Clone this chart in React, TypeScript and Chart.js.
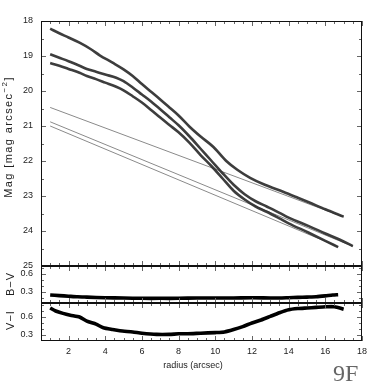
import React, { useEffect, useRef } from "react";
import { Chart, registerables } from "chart.js";

Chart.register(...registerables);

// ---- Surface brightness profiles (thick curves) ----
const radiusProfile1 = [1.0, 1.5, 2.0, 2.6, 3.2, 3.7, 4.4, 5.0, 5.5, 6.0, 6.5, 7.0, 7.5, 8.0, 8.6, 9.2, 9.9, 10.6, 11.2, 11.9, 12.7, 13.7, 14.5, 15.1, 16.0, 17.0];
const magProfile1 = [18.22, 18.35, 18.47, 18.62, 18.8, 18.98, 19.19, 19.38, 19.57, 19.8, 20.02, 20.24, 20.47, 20.7, 21.02, 21.3, 21.6, 22.0, 22.25, 22.48, 22.68, 22.88, 23.05, 23.18, 23.38, 23.59];

const radiusProfile2 = [1.0, 1.5, 2.0, 2.6, 3.0, 3.5, 4.0, 4.6, 5.0, 5.5, 6.0, 6.5, 7.0, 7.5, 8.0, 8.6, 9.2, 9.8, 10.4, 11.0, 11.6, 12.2, 12.8, 13.5, 14.0, 15.1, 16.0, 16.8, 17.5];
const magProfile2 = [18.95, 19.05, 19.15, 19.28, 19.37, 19.45, 19.53, 19.62, 19.72, 19.9, 20.1, 20.3, 20.52, 20.75, 20.98, 21.3, 21.65, 22.0, 22.35, 22.68, 22.95, 23.15, 23.3, 23.48, 23.62, 23.86, 24.07, 24.25, 24.43];

const radiusProfile3 = [1.0, 1.5, 2.0, 2.6, 3.0, 3.5, 4.0, 4.6, 5.0, 5.5, 6.0, 6.5, 7.0, 7.5, 8.0, 8.6, 9.2, 9.8, 10.4, 11.0, 11.6, 12.2, 12.8, 13.5, 14.0, 15.1, 16.0, 16.7];
const magProfile3 = [19.2, 19.28, 19.37, 19.48, 19.57, 19.66, 19.76, 19.88, 19.98, 20.15, 20.33, 20.54, 20.76, 20.97, 21.18, 21.48, 21.83, 22.15, 22.5, 22.85, 23.1, 23.3, 23.45, 23.64, 23.78, 24.05, 24.28, 24.46];

// ---- Disk fits (thin straight lines) ----
const radiusDisk1 = [1.0, 17.0];
const magDisk1 = [20.47, 23.6];
const radiusDisk2 = [1.0, 17.5];
const magDisk2 = [20.88, 24.44];
const radiusDisk3 = [1.0, 16.7];
const magDisk3 = [21.0, 24.45];

// ---- Colour profiles ----
const radiusBV = [1.0, 1.5, 2.0, 2.5, 3.0, 4.0, 5.0, 6.0, 7.0, 8.0, 9.0, 10.0, 11.0, 12.0, 13.0, 13.5, 14.0, 14.5, 15.0, 15.5, 16.0, 16.4, 16.7];
const colorBV = [0.25, 0.24, 0.23, 0.22, 0.215, 0.205, 0.2, 0.195, 0.195, 0.195, 0.2, 0.2, 0.2, 0.205, 0.2, 0.2, 0.205, 0.21, 0.215, 0.22, 0.235, 0.25, 0.255];

const radiusVI = [1.0, 1.3, 1.7, 2.1, 2.6, 3.0, 3.5, 3.9, 4.4, 4.8, 5.5, 6.0, 6.8, 7.5, 8.0, 8.5, 9.2, 10.0, 10.5, 11.0, 11.5, 12.0, 12.5, 13.0, 13.5, 14.0, 14.5, 15.0, 15.5, 16.0, 16.5, 17.0];
const colorVI = [0.75, 0.7, 0.66, 0.63, 0.6, 0.53, 0.48, 0.42, 0.39, 0.37, 0.35, 0.33, 0.31, 0.31, 0.32, 0.32, 0.33, 0.34, 0.35, 0.39, 0.44, 0.5, 0.55, 0.61, 0.67, 0.72, 0.74, 0.75, 0.76, 0.77, 0.77, 0.73];

// ---- Axes ----
const xMajorTicks = [2, 4, 6, 8, 10, 12, 14, 16, 18];
const xMinorTicks = [1, 1.5, 2.5, 3, 3.5, 4.5, 5, 5.5, 6.5, 7, 7.5, 8.5, 9, 9.5, 10.5, 11, 11.5, 12.5, 13, 13.5, 14.5, 15, 15.5, 16.5, 17, 17.5];
const magMajorTicks = [18, 19, 20, 21, 22, 23, 24, 25];
const magMinorTicks = [18.5, 19.5, 20.5, 21.5, 22.5, 23.5, 24.5];
const colorMajorTicks = [0.3, 0.6];
const bvMinorTicks = [0.2, 0.4, 0.5, 0.7];
const viMinorTicks = [0.4, 0.5, 0.7, 0.8];

const pts = (xs: number[], ys: number[]) => xs.map((x, i) => ({ x, y: ys[i] }));

const FONT = '"Liberation Sans", Arial, sans-serif';

type PanelCfg = {
  yMajor: number[];
  yMinor: number[];
  yLabels: number[];
  fmt: (v: number) => string;
  xLabels?: boolean;
  extra?: (ctx: CanvasRenderingContext2D) => void;
};

function makeFrame(cfg: PanelCfg) {
  return {
    id: "frame",
    afterDatasetsDraw(chart: any) {
      const { ctx, chartArea: a } = chart;
      const xs = chart.scales.x;
      const ys = chart.scales.y;
      const L = Math.round(a.left), R = Math.round(a.right), T = Math.round(a.top), B = Math.round(a.bottom);
      ctx.save();
      ctx.lineWidth = 1;
      ctx.strokeStyle = "#666";
      ctx.beginPath();
      const xt = (v: number, len: number) => {
        const p = Math.round(xs.getPixelForValue(v)) + 0.5;
        ctx.moveTo(p, T);
        ctx.lineTo(p, T + len);
        ctx.moveTo(p, B);
        ctx.lineTo(p, B - len);
      };
      xMajorTicks.forEach((v) => xt(v, 5));
      xMinorTicks.forEach((v) => xt(v, 3));
      const yt = (v: number, len: number) => {
        const p = Math.round(ys.getPixelForValue(v)) + 0.5;
        ctx.moveTo(L, p);
        ctx.lineTo(L + len, p);
        ctx.moveTo(R, p);
        ctx.lineTo(R - len, p);
      };
      cfg.yMajor.forEach((v) => yt(v, 5));
      cfg.yMinor.forEach((v) => yt(v, 3));
      ctx.stroke();

      ctx.strokeStyle = "#111";
      ctx.strokeRect(L + 0.5, T + 0.5, R - L - 1, B - T - 1);

      ctx.fillStyle = "#222";
      ctx.font = `9px ${FONT}`;
      ctx.textAlign = "right";
      ctx.textBaseline = "middle";
      cfg.yLabels.forEach((v) => {
        ctx.fillText(cfg.fmt(v), L - 8, ys.getPixelForValue(v));
      });
      if (cfg.xLabels) {
        ctx.textAlign = "center";
        xMajorTicks.forEach((v) => {
          ctx.fillText(String(v), xs.getPixelForValue(v), B + 11);
        });
      }
      if (cfg.extra) cfg.extra(ctx);
      ctx.restore();
    },
  };
}

function drawRotated(ctx: CanvasRenderingContext2D, x: number, y: number, draw: () => void) {
  ctx.save();
  ctx.translate(x, y);
  ctx.rotate(-Math.PI / 2);
  draw();
  ctx.restore();
}

const mainExtra = (ctx: CanvasRenderingContext2D) => {
  drawRotated(ctx, 9, 137, () => {
    (ctx as any).letterSpacing = "1.4px";
    ctx.fillStyle = "#222";
    ctx.textBaseline = "middle";
    ctx.textAlign = "left";
    const big = `11px ${FONT}`;
    const small = `8px ${FONT}`;
    const p1 = "Mag [mag arcsec";
    const p2 = "\u22122";
    const p3 = "]";
    ctx.font = big;
    const w1 = ctx.measureText(p1).width;
    const w3 = ctx.measureText(p3).width;
    ctx.font = small;
    const w2 = ctx.measureText(p2).width;
    let sx = -(w1 + w2 + w3) / 2;
    ctx.font = big;
    ctx.fillText(p1, sx, 0);
    sx += w1;
    ctx.font = small;
    ctx.fillText(p2, sx, -4);
    sx += w2;
    ctx.font = big;
    ctx.fillText(p3, sx, 0);
  });
};

const bvExtra = (ctx: CanvasRenderingContext2D) => {
  drawRotated(ctx, 11, 284, () => {
    (ctx as any).letterSpacing = "1px";
    ctx.fillStyle = "#222";
    ctx.font = `11px ${FONT}`;
    ctx.textAlign = "center";
    ctx.textBaseline = "middle";
    ctx.fillText("B\u2212V", 0, 0);
  });
};

const viExtra = (ctx: CanvasRenderingContext2D) => {
  drawRotated(ctx, 11, 320, () => {
    (ctx as any).letterSpacing = "1px";
    ctx.fillStyle = "#222";
    ctx.font = `11px ${FONT}`;
    ctx.textAlign = "center";
    ctx.textBaseline = "middle";
    ctx.fillText("V\u2212I", 0, 0);
  });
  ctx.fillStyle = "#222";
  ctx.font = `9px ${FONT}`;
  ctx.textAlign = "center";
  ctx.textBaseline = "middle";
  ctx.fillText("radius (arcsec)", 193, 366);
  ctx.fillStyle = "#666";
  ctx.font = `24px "Liberation Serif", "DejaVu Serif", serif`;
  ctx.textAlign = "left";
  ctx.textBaseline = "alphabetic";
  ctx.fillText("9F", 333, 381);
};

const thick = (data: { x: number; y: number }[]) => ({
  data,
  borderColor: "rgba(45,45,45,0.92)",
  borderWidth: 2.6,
  pointRadius: 0,
  cubicInterpolationMode: "monotone" as const,
  fill: false,
});
const thin = (data: { x: number; y: number }[]) => ({
  data,
  borderColor: "#8a8a8a",
  borderWidth: 1,
  pointRadius: 0,
  fill: false,
});
const colorLine = (data: { x: number; y: number }[]) => ({
  data,
  borderColor: "#000",
  borderWidth: 3.6,
  pointRadius: 0,
  tension: 0.2,
  fill: false,
});

function baseOptions(yMin: number, yMax: number, reverse: boolean, padding: any) {
  return {
    responsive: false,
    animation: false as const,
    events: [] as any[],
    layout: { padding },
    plugins: { legend: { display: false }, tooltip: { enabled: false } },
    scales: {
      x: { type: "linear" as const, min: 0.5, max: 18, display: false },
      y: { type: "linear" as const, min: yMin, max: yMax, reverse, display: false },
    },
  };
}

function Panel({ config }: { config: () => any }) {
  const ref = useRef<HTMLCanvasElement | null>(null);
  useEffect(() => {
    if (!ref.current) return;
    const chart = new Chart(ref.current, config());
    return () => chart.destroy();
  }, []);
  return (
    <canvas
      ref={ref}
      width={382}
      height={382}
      style={{ position: "absolute", left: 0, top: 0, width: 382, height: 382 }}
    />
  );
}

const mainConfig = () => ({
  type: "line",
  data: {
    datasets: [
      thick(pts(radiusProfile1, magProfile1)),
      thick(pts(radiusProfile2, magProfile2)),
      thick(pts(radiusProfile3, magProfile3)),
      thin(pts(radiusDisk1, magDisk1)),
      thin(pts(radiusDisk2, magDisk2)),
      thin(pts(radiusDisk3, magDisk3)),
    ],
  },
  options: baseOptions(18, 25, true, { left: 41, top: 21, right: 20, bottom: 116 }),
  plugins: [
    makeFrame({
      yMajor: magMajorTicks,
      yMinor: magMinorTicks,
      yLabels: magMajorTicks,
      fmt: (v) => String(v),
      extra: mainExtra,
    }),
  ],
});

const bvConfig = () => ({
  type: "line",
  data: { datasets: [colorLine(pts(radiusBV, colorBV))] },
  options: baseOptions(0.117, 0.733, false, { left: 41, top: 266, right: 20, bottom: 79 }),
  plugins: [
    makeFrame({
      yMajor: colorMajorTicks,
      yMinor: bvMinorTicks,
      yLabels: colorMajorTicks,
      fmt: (v) => v.toFixed(1),
      extra: bvExtra,
    }),
  ],
});

const viConfig = () => ({
  type: "line",
  data: { datasets: [colorLine(pts(radiusVI, colorVI))] },
  options: baseOptions(0.2, 0.833, false, { left: 41, top: 303, right: 20, bottom: 41 }),
  plugins: [
    makeFrame({
      yMajor: colorMajorTicks,
      yMinor: viMinorTicks,
      yLabels: colorMajorTicks,
      fmt: (v) => v.toFixed(1),
      xLabels: true,
      extra: viExtra,
    }),
  ],
});

export default function App() {
  return (
    <div
      style={{
        position: "fixed",
        left: 0,
        top: 0,
        width: 382,
        height: 382,
        background: "#fff",
        overflow: "hidden",
      }}
    >
      <Panel config={mainConfig} />
      <Panel config={bvConfig} />
      <Panel config={viConfig} />
    </div>
  );
}
